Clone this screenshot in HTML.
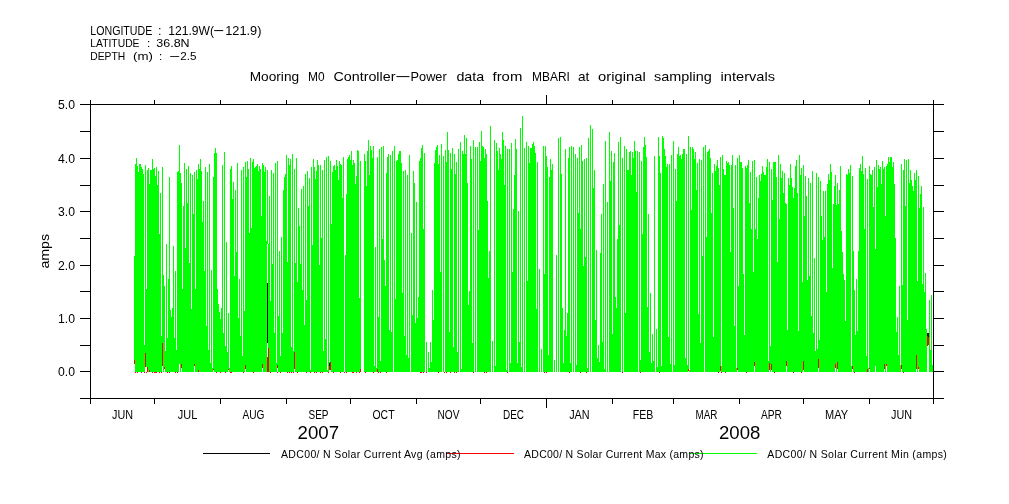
<!DOCTYPE html>
<html><head><meta charset="utf-8"><title>Mooring M0 Controller-Power</title>
<style>html,body{margin:0;padding:0;background:#fff}svg{display:block}</style></head>
<body>
<svg width="1009" height="504" viewBox="0 0 1009 504" font-family="'Liberation Sans', sans-serif" fill="#000">
<rect width="1009" height="504" fill="#fff"/>
<path d="M134.5 256V360M135.5 164V372M136.5 158V372M137.5 166V372M138.5 172V372M139.5 164V372M140.5 164V372M141.5 167V372M142.5 169V372M143.5 174V372M144.5 345V372M145.5 165V353M146.5 289V367M147.5 170V367M148.5 168V372M149.5 184V370M150.5 170V372M151.5 170V372M152.5 159V372M153.5 169V372M154.5 168V372M155.5 176V372M156.5 167V372M157.5 185V372M158.5 171V372M159.5 234V372M160.5 193V372M161.5 336V372M162.5 167V343M163.5 275V372M164.5 286V367M165.5 351V372M166.5 244V372M167.5 338V372M168.5 279V372M169.5 177V372M170.5 310V372M171.5 317V372M172.5 308V372M173.5 246V372M174.5 338V372M175.5 271V372M176.5 350V372M177.5 172V372M178.5 171V372M179.5 145V364M180.5 173V372M181.5 183V364M182.5 289V372M183.5 206V372M184.5 163V372M185.5 248V372M186.5 169V372M187.5 203V372M188.5 166V372M189.5 263V372M190.5 173V372M191.5 309V372M192.5 175V372M193.5 214V372M194.5 172V364M195.5 289V372M196.5 170V372M197.5 179V372M198.5 164V370M199.5 169V372M200.5 159V372M201.5 171V372M202.5 222V372M203.5 201V372M204.5 271V372M205.5 167V372M206.5 326V372M207.5 172V372M208.5 350V372M209.5 164V372M210.5 363V372M211.5 270V372M212.5 368V372M213.5 177V369M214.5 153V372M215.5 148V372M216.5 153V372M217.5 289V372M218.5 304V372M219.5 312V372M220.5 319V372M221.5 308V372M222.5 165V372M223.5 333V372M224.5 152V372M225.5 346V372M226.5 242V372M227.5 352V372M228.5 313V369M229.5 368V372M230.5 169V372M231.5 166V372M232.5 199V372M233.5 182V372M234.5 276V372M235.5 190V372M236.5 252V372M237.5 163V372M238.5 318V372M239.5 279V372M240.5 336V372M241.5 170V372M242.5 356V372M243.5 167V372M244.5 311V372M245.5 162V365M246.5 177V372M247.5 161V372M248.5 169V372M249.5 233V372M250.5 158V372M251.5 228V372M252.5 162V372M253.5 159V372M254.5 168V372M255.5 167V372M256.5 166V372M257.5 164V372M258.5 171V372M259.5 166V372M260.5 169V372M261.5 216V372M262.5 163V364M263.5 165V372M264.5 172V372M265.5 167V372M266.5 241V372M267.5 170V244M268.5 244V348M269.5 196V372M270.5 301V372M271.5 170V372M272.5 264V372M273.5 173V372M274.5 333V372M275.5 163V372M276.5 363V372M277.5 161V365M278.5 316V372M279.5 251V372M280.5 356V372M281.5 237V372M282.5 333V372M283.5 190V372M284.5 177V372M285.5 174V372M286.5 155V372M287.5 262V372M288.5 158V372M289.5 165V372M290.5 159V372M291.5 347V372M292.5 154V372M293.5 351V372M294.5 169V352M295.5 263V372M296.5 158V372M297.5 282V372M298.5 208V372M299.5 226V372M300.5 264V372M301.5 189V372M302.5 290V372M303.5 186V372M304.5 325V372M305.5 174V372M306.5 300V372M307.5 171V372M308.5 206V372M309.5 178V372M310.5 370V372M311.5 167V372M312.5 245V372M313.5 159V372M314.5 167V372M315.5 179V372M316.5 171V372M317.5 160V372M318.5 165V372M319.5 265V372M320.5 165V372M321.5 238V372M322.5 170V372M323.5 351V372M324.5 160V372M325.5 339V372M326.5 157V372M327.5 370V372M328.5 156V372M329.5 362V366M330.5 161V362M331.5 224V372M332.5 172V372M333.5 166V372M334.5 165V372M335.5 170V372M336.5 160V372M337.5 166V372M338.5 180V372M339.5 161V372M340.5 164V372M341.5 165V372M342.5 198V372M343.5 157V372M345.5 255V372M346.5 194V372M347.5 159V372M348.5 157V372M349.5 155V372M350.5 160V372M351.5 151V372M352.5 165V372M353.5 160V372M354.5 163V372M355.5 184V372M356.5 176V372M357.5 150V372M358.5 151V372M359.5 298V372M360.5 161V369M364.5 154V372M365.5 161V372M366.5 186V372M367.5 151V372M368.5 140V372M369.5 175V372M370.5 146V372M371.5 150V372M372.5 158V372M373.5 146V372M374.5 366V372M375.5 247V372M376.5 368V372M377.5 157V369M378.5 317V372M379.5 149V372M380.5 361V372M381.5 147V372M382.5 239V372M383.5 146V372M384.5 260V372M385.5 286V372M386.5 173V372M387.5 157V372M388.5 154V372M389.5 330V372M390.5 155V372M391.5 332V372M392.5 151V372M394.5 146V372M395.5 299V372M396.5 161V372M397.5 160V372M398.5 154V372M399.5 151V372M400.5 151V372M401.5 163V372M402.5 293V372M403.5 171V372M404.5 336V372M405.5 170V372M406.5 355V372M407.5 175V372M408.5 358V372M409.5 155V372M411.5 233V372M412.5 315V372M413.5 171V372M414.5 183V372M415.5 323V372M416.5 202V372M417.5 318V372M418.5 297V372M419.5 161V372M420.5 158V372M421.5 148V372M422.5 145V372M423.5 229V372M424.5 153V372M426.5 342V372M428.5 352V372M429.5 368V372M430.5 342V372M431.5 362V372M432.5 290V372M433.5 320V372M434.5 163V372M435.5 150V372M436.5 147V372M437.5 145V372M438.5 164V372M439.5 155V372M440.5 272V372M441.5 144V372M443.5 156V372M445.5 150V372M446.5 162V372M447.5 132V372M448.5 150V372M449.5 332V372M450.5 153V372M451.5 169V372M452.5 148V372M453.5 347V372M454.5 154V372M455.5 174V372M456.5 162V372M457.5 352V372M458.5 149V372M460.5 142V372M461.5 369V372M462.5 151V372M463.5 154V372M464.5 135V372M465.5 154V372M466.5 138V372M467.5 183V372M468.5 305V372M469.5 291V372M470.5 146V372M471.5 159V372M472.5 343V372M473.5 140V372M475.5 147V372M477.5 147V372M478.5 230V372M479.5 142V372M480.5 161V372M481.5 131V372M482.5 146V372M483.5 147V372M484.5 158V372M485.5 149V372M486.5 154V372M487.5 201V372M488.5 278V372M489.5 251V372M490.5 126V372M492.5 341V372M494.5 140V372M495.5 366V372M496.5 143V372M497.5 151V372M498.5 170V372M499.5 148V372M500.5 154V372M501.5 159V372M502.5 132V372M503.5 140V372M504.5 185V372M505.5 146V372M506.5 370V372M507.5 149V372M509.5 149V372M510.5 363V372M511.5 143V372M512.5 272V372M513.5 209V372M514.5 175V372M515.5 139V372M516.5 149V372M517.5 363V372M518.5 211V372M519.5 342V372M520.5 128V372M521.5 367V372M522.5 116V372M524.5 148V372M526.5 142V372M527.5 281V372M528.5 146V372M529.5 163V372M530.5 148V372M531.5 148V372M532.5 144V372M533.5 142V372M534.5 146V372M535.5 153V372M536.5 309V372M537.5 162V372M539.5 269V372M541.5 349V372M543.5 146V372M544.5 274V372M545.5 146V372M546.5 156V372M547.5 167V372M548.5 355V372M549.5 177V372M550.5 159V372M551.5 170V372M552.5 164V372M554.5 360V372M556.5 255V372M558.5 138V372M560.5 137V372M561.5 174V372M562.5 308V372M563.5 363V372M564.5 330V372M565.5 149V372M566.5 336V372M567.5 313V372M568.5 158V372M569.5 147V372M570.5 363V372M571.5 146V372M573.5 147V372M575.5 154V372M576.5 365V372M577.5 158V372M578.5 213V372M579.5 147V372M580.5 229V372M581.5 145V372M582.5 161V372M583.5 266V372M584.5 159V372M585.5 257V372M586.5 158V372M587.5 368V372M588.5 138V372M590.5 125V372M592.5 129V372M593.5 188V372M594.5 170V372M595.5 320V372M596.5 250V372M597.5 358V372M598.5 345V372M599.5 362V372M600.5 253V372M601.5 214V372M602.5 342V372M603.5 184V372M604.5 369V372M605.5 141V372M607.5 202V372M609.5 132V372M610.5 181V372M611.5 151V372M612.5 334V372M613.5 162V372M614.5 153V372M615.5 297V372M616.5 308V372M617.5 239V372M618.5 142V372M619.5 225V372M620.5 137V372M622.5 158V372M624.5 146V372M625.5 313V372M626.5 149V372M627.5 170V372M628.5 170V372M629.5 152V372M630.5 151V372M631.5 175V372M632.5 152V372M633.5 158V372M634.5 141V372M635.5 151V372M636.5 192V372M637.5 151V372M639.5 152V372M640.5 360V372M641.5 161V372M642.5 234V372M643.5 147V372M644.5 137V372M645.5 145V372M646.5 157V372M647.5 307V372M648.5 214V372M649.5 352V372M650.5 293V372M651.5 363V372M652.5 334V372M653.5 361V372M654.5 156V372M656.5 329V372M657.5 367V372M658.5 137V372M659.5 156V372M660.5 173V372M661.5 366V372M662.5 136V372M663.5 138V372M664.5 149V372M665.5 156V372M666.5 167V372M667.5 164V372M668.5 337V372M669.5 164V372M670.5 364V372M671.5 155V372M673.5 141V372M674.5 365V372M675.5 169V372M676.5 201V372M677.5 154V372M678.5 147V372M679.5 156V372M680.5 155V372M681.5 159V372M682.5 154V372M683.5 149V372M684.5 149V372M685.5 358V372M686.5 154V372M687.5 365V372M688.5 136V369M689.5 370V372M690.5 147V372M691.5 210V372M692.5 147V372M693.5 149V372M694.5 159V372M695.5 152V372M696.5 190V372M697.5 163V372M698.5 314V372M699.5 159V372M700.5 343V372M701.5 160V372M702.5 256V372M703.5 147V372M705.5 145V372M706.5 237V372M707.5 152V372M708.5 151V372M709.5 149V372M710.5 158V372M711.5 213V372M712.5 173V372M713.5 337V372M714.5 164V372M715.5 171V372M716.5 166V372M717.5 160V372M718.5 168V372M719.5 185V372M720.5 157V366M721.5 366V372M722.5 155V372M723.5 169V372M724.5 175V372M725.5 175V372M726.5 161V372M727.5 163V372M728.5 162V372M729.5 165V372M730.5 252V372M731.5 165V372M732.5 155V372M733.5 208V372M734.5 326V372M735.5 165V372M736.5 368V372M737.5 158V368M738.5 286V372M739.5 155V372M740.5 162V372M741.5 162V372M742.5 168V372M743.5 274V372M744.5 335V372M745.5 166V372M746.5 168V372M747.5 165V372M748.5 160V372M749.5 203V372M750.5 172V372M751.5 229V372M752.5 161V372M753.5 272V372M754.5 160V362M755.5 229V372M756.5 177V372M757.5 239V372M758.5 198V372M759.5 175V372M760.5 181V372M761.5 174V372M762.5 166V372M763.5 172V372M764.5 175V372M765.5 175V372M766.5 167V372M767.5 159V372M768.5 361V372M769.5 162V363M770.5 346V372M771.5 169V364M772.5 200V372M773.5 162V372M774.5 162V372M775.5 162V372M776.5 177V372M777.5 262V372M778.5 155V372M779.5 219V372M780.5 164V372M781.5 178V372M782.5 171V372M783.5 193V372M784.5 173V372M785.5 203V372M786.5 204V361M787.5 330V372M788.5 178V372M789.5 185V372M790.5 164V372M791.5 178V372M792.5 187V372M793.5 198V372M794.5 188V372M795.5 166V372M796.5 160V372M797.5 193V372M798.5 331V372M799.5 155V372M800.5 175V372M801.5 168V372M802.5 282V372M803.5 165V361M804.5 216V372M805.5 176V372M806.5 196V372M807.5 280V372M808.5 178V372M809.5 276V372M810.5 183V372M811.5 316V372M812.5 171V372M813.5 333V372M814.5 258V372M815.5 351V372M816.5 173V372M817.5 349V372M818.5 177V359M819.5 340V372M820.5 181V372M821.5 216V372M822.5 240V372M823.5 191V372M824.5 237V372M825.5 191V372M826.5 292V372M827.5 184V372M828.5 174V372M829.5 180V372M830.5 164V372M831.5 172V372M832.5 268V372M833.5 204V372M834.5 186V372M835.5 175V364M836.5 205V372M837.5 183V362M838.5 204V372M839.5 190V372M840.5 166V372M841.5 231V372M842.5 252V372M843.5 274V372M844.5 280V372M845.5 321V372M846.5 174V372M847.5 175V372M848.5 169V372M849.5 173V372M850.5 165V372M851.5 366V372M852.5 176V366M853.5 251V372M854.5 290V372M855.5 335V372M856.5 279V372M857.5 331V372M858.5 251V372M859.5 168V372M860.5 164V372M861.5 171V372M862.5 156V372M863.5 174V372M864.5 229V372M865.5 168V372M866.5 356V372M867.5 179V369M868.5 368V372M869.5 166V368M870.5 174V372M871.5 175V372M872.5 170V372M873.5 207V372M874.5 167V372M875.5 249V366M876.5 160V372M877.5 187V372M878.5 165V372M879.5 169V372M880.5 167V372M881.5 184V372M882.5 161V372M883.5 169V372M884.5 167V364M885.5 216V372M886.5 166V364M887.5 164V372M888.5 157V372M889.5 162V372M890.5 157V372M891.5 157V372M892.5 167V372M893.5 162V372M894.5 184V372M895.5 238V372M896.5 332V372M897.5 317V372M898.5 355V372M899.5 286V372M900.5 365V372M901.5 164V365M902.5 285V372M903.5 170V372M904.5 159V372M905.5 206V372M906.5 160V372M907.5 320V372M908.5 159V372M909.5 183V372M910.5 170V372M911.5 180V372M912.5 186V372M913.5 191V372M914.5 173V372M915.5 180V372M916.5 170V355M917.5 281V372M918.5 176V367M919.5 208V372M920.5 194V372M921.5 186V372M922.5 284V372M923.5 207V372M924.5 292V372M925.5 273V372M926.5 329V372M929.5 300V372M930.5 350V372M931.5 295V372M932.5 365V372" stroke="#00ff00" stroke-width="1" fill="none" shape-rendering="crispEdges"/>
<path d="M134.5 360V364M145.5 353V367M147.5 367V372M149.5 370V372M162.5 343V366M164.5 367V369M181.5 364V368M194.5 364V366M198.5 370V372M213.5 369V370M228.5 369V370M245.5 365V369M262.5 364V368M267.5 357V372M268.5 348V372M277.5 365V368M294.5 352V369M329.5 366V370M330.5 362V370M360.5 369V372M377.5 369V372M688.5 369V371M720.5 366V371M737.5 368V370M754.5 362V366M769.5 363V370M771.5 364V370M786.5 361V366M803.5 361V370M818.5 359V368M835.5 364V368M837.5 362V369M852.5 366V369M867.5 369V372M869.5 368V369M884.5 364V369M886.5 364V366M901.5 365V369M916.5 355V369M918.5 367V369M927.5 336V346M928.5 337V345M135.5 372V373M137.5 372V373M141.5 372V373M144.5 372V373M146.5 372V373M152.5 372V373M154.5 372V373M155.5 372V373M156.5 372V373M159.5 372V373M161.5 372V373M167.5 372V373M169.5 372V373M175.5 372V373M177.5 372V373M216.5 372V373M220.5 372V373M225.5 372V373M230.5 372V373M231.5 372V373M243.5 372V373M253.5 372V373M270.5 372V373M277.5 372V373M280.5 372V373M287.5 372V373M289.5 372V373M291.5 372V373M293.5 372V373M297.5 372V373M306.5 372V373M310.5 372V373M314.5 372V373M316.5 372V373M320.5 372V373M322.5 372V373M328.5 372V373M333.5 372V373M340.5 372V373M344.5 372V373M346.5 372V373M352.5 372V373M353.5 372V373M356.5 372V373M359.5 372V373M365.5 372V373M373.5 372V373M378.5 372V373M380.5 372V373M386.5 372V373M420.5 372V373M421.5 372V373M423.5 372V373M426.5 372V373M438.5 372V373M444.5 372V373M446.5 372V373M450.5 372V373M454.5 372V373M456.5 372V373M473.5 372V373M484.5 372V373M486.5 372V373M507.5 372V373M544.5 372V373M546.5 372V373M569.5 372V373M580.5 372V373M586.5 372V373M622.5 372V373M640.5 372V373M659.5 372V373M718.5 372V373M721.5 372V373M725.5 372V373M746.5 372V373M774.5 372V373M793.5 372V373M801.5 372V373M854.5 372V373M903.5 372V373" stroke="#ff0000" stroke-width="1" fill="none" shape-rendering="crispEdges"/>
<path d="M267.5 283V343M329.5 363V366M927.5 333V336M928.5 333V337" stroke="#000" stroke-width="1" fill="none" shape-rendering="crispEdges"/>
<path d="M80 104.5H944M80 398.5H944M90.5 100V404M933.5 100V404M80 371.5H91M933 371.5H944M80 345.5H91M933 345.5H944M80 318.5H91M933 318.5H944M80 291.5H91M933 291.5H944M80 265.5H91M933 265.5H944M80 238.5H91M933 238.5H944M80 211.5H91M933 211.5H944M80 185.5H91M933 185.5H944M80 158.5H91M933 158.5H944M80 131.5H91M933 131.5H944M154.5 100V104M154.5 398V404M220.5 100V104M220.5 398V404M286.5 100V104M286.5 398V404M350.5 100V104M350.5 398V404M416.5 100V104M416.5 398V404M480.5 100V104M480.5 398V404M546.5 95V104M546.5 398V408M612.5 100V104M612.5 398V404M673.5 100V104M673.5 398V404M739.5 100V104M739.5 398V404M803.5 100V104M803.5 398V404M869.5 100V104M869.5 398V404" stroke="#000" stroke-width="1" fill="none" shape-rendering="crispEdges"/>
<text x="58" y="376" font-size="12.3" textLength="17" lengthAdjust="spacingAndGlyphs">0.0</text>
<text x="58" y="323" font-size="12.3" textLength="17" lengthAdjust="spacingAndGlyphs">1.0</text>
<text x="58" y="270" font-size="12.3" textLength="17" lengthAdjust="spacingAndGlyphs">2.0</text>
<text x="58" y="216" font-size="12.3" textLength="17" lengthAdjust="spacingAndGlyphs">3.0</text>
<text x="58" y="163" font-size="12.3" textLength="17" lengthAdjust="spacingAndGlyphs">4.0</text>
<text x="58" y="109" font-size="12.3" textLength="17" lengthAdjust="spacingAndGlyphs">5.0</text>
<text x="112.0" y="419" font-size="12.3" textLength="21" lengthAdjust="spacingAndGlyphs">JUN</text>
<text x="177.8" y="419" font-size="12.3" textLength="19.5" lengthAdjust="spacingAndGlyphs">JUL</text>
<text x="242.5" y="419" font-size="12.3" textLength="22" lengthAdjust="spacingAndGlyphs">AUG</text>
<text x="308.5" y="419" font-size="12.3" textLength="20" lengthAdjust="spacingAndGlyphs">SEP</text>
<text x="372.5" y="419" font-size="12.3" textLength="22" lengthAdjust="spacingAndGlyphs">OCT</text>
<text x="437.5" y="419" font-size="12.3" textLength="22" lengthAdjust="spacingAndGlyphs">NOV</text>
<text x="503.0" y="419" font-size="12.3" textLength="21" lengthAdjust="spacingAndGlyphs">DEC</text>
<text x="569.2" y="419" font-size="12.3" textLength="20.5" lengthAdjust="spacingAndGlyphs">JAN</text>
<text x="632.8" y="419" font-size="12.3" textLength="20.5" lengthAdjust="spacingAndGlyphs">FEB</text>
<text x="695.5" y="419" font-size="12.3" textLength="22" lengthAdjust="spacingAndGlyphs">MAR</text>
<text x="761.0" y="419" font-size="12.3" textLength="21" lengthAdjust="spacingAndGlyphs">APR</text>
<text x="825.0" y="419" font-size="12.3" textLength="23" lengthAdjust="spacingAndGlyphs">MAY</text>
<text x="891.0" y="419" font-size="12.3" textLength="21" lengthAdjust="spacingAndGlyphs">JUN</text>
<text x="297.6" y="439" font-size="18.2" textLength="41.5" lengthAdjust="spacingAndGlyphs">2007</text>
<text x="719" y="439" font-size="18.2" textLength="41.3" lengthAdjust="spacingAndGlyphs">2008</text>
<text transform="translate(49,268.6) rotate(-90)" font-size="13.5" textLength="34.7" lengthAdjust="spacingAndGlyphs">amps</text>
<text x="90.3" y="35" font-size="12.5" textLength="62.0" lengthAdjust="spacingAndGlyphs">LONGITUDE</text>
<text x="158" y="35" font-size="12.5">:</text>
<text x="168.2" y="35" font-size="12.5" textLength="45.8" lengthAdjust="spacingAndGlyphs">121.9W(</text>
<text x="225.2" y="35" font-size="12.5" textLength="36.2" lengthAdjust="spacingAndGlyphs">121.9)</text>
<text x="90.3" y="47.2" font-size="11.5" textLength="49.2" lengthAdjust="spacingAndGlyphs">LATITUDE</text>
<text x="147" y="47.2" font-size="11.5">:</text>
<text x="156.3" y="47.2" font-size="11.5" textLength="33.3" lengthAdjust="spacingAndGlyphs">36.8N</text>
<text x="90.3" y="59.8" font-size="11.5" textLength="34.9" lengthAdjust="spacingAndGlyphs">DEPTH</text>
<text x="133.1" y="59.8" font-size="11.5" textLength="19.9" lengthAdjust="spacingAndGlyphs">(m)</text>
<text x="159" y="59.8" font-size="11.5">:</text>
<text x="180.2" y="59.8" font-size="11.5" textLength="16.3" lengthAdjust="spacingAndGlyphs">2.5</text>
<text x="249.7" y="81" font-size="13" textLength="49.4" lengthAdjust="spacingAndGlyphs">Mooring</text>
<text x="308" y="81" font-size="13" textLength="16.6" lengthAdjust="spacingAndGlyphs">M0</text>
<text x="333.5" y="81" font-size="13" textLength="61.9" lengthAdjust="spacingAndGlyphs">Controller</text>
<text x="410.6" y="81" font-size="13" textLength="36.1" lengthAdjust="spacingAndGlyphs">Power</text>
<text x="456.4" y="81" font-size="13" textLength="27.8" lengthAdjust="spacingAndGlyphs">data</text>
<text x="492.5" y="81" font-size="13" textLength="29.8" lengthAdjust="spacingAndGlyphs">from</text>
<text x="532.1" y="81" font-size="13" textLength="37.8" lengthAdjust="spacingAndGlyphs">MBARI</text>
<text x="577.9" y="81" font-size="13" textLength="11.3" lengthAdjust="spacingAndGlyphs">at</text>
<text x="598.1" y="81" font-size="13" textLength="47.6" lengthAdjust="spacingAndGlyphs">original</text>
<text x="654" y="81" font-size="13" textLength="57.7" lengthAdjust="spacingAndGlyphs">sampling</text>
<text x="720.6" y="81" font-size="13" textLength="54.4" lengthAdjust="spacingAndGlyphs">intervals</text>
<text x="212.6" y="34" font-size="12.5" textLength="12.4" lengthAdjust="spacingAndGlyphs">-</text>
<text x="168.5" y="59" font-size="11.5" textLength="12.4" lengthAdjust="spacingAndGlyphs">-</text>
<text x="394.1" y="80" font-size="13" textLength="17.9" lengthAdjust="spacingAndGlyphs">-</text>
<path d="M203 453.5H270" stroke="#000" stroke-width="1" shape-rendering="crispEdges"/>
<path d="M447 453.5H514" stroke="#ff0000" stroke-width="1" shape-rendering="crispEdges"/>
<path d="M690 453.5H757" stroke="#00ff00" stroke-width="1" shape-rendering="crispEdges"/>
<text x="281" y="458" font-size="10.5" textLength="179.5" lengthAdjust="spacing">ADC00/ N Solar Current Avg (amps)</text>
<text x="524" y="458" font-size="10.5" textLength="179.5" lengthAdjust="spacing">ADC00/ N Solar Current Max (amps)</text>
<text x="767.3" y="458" font-size="10.5" textLength="179.5" lengthAdjust="spacing">ADC00/ N Solar Current Min (amps)</text>
</svg>
</body></html>
